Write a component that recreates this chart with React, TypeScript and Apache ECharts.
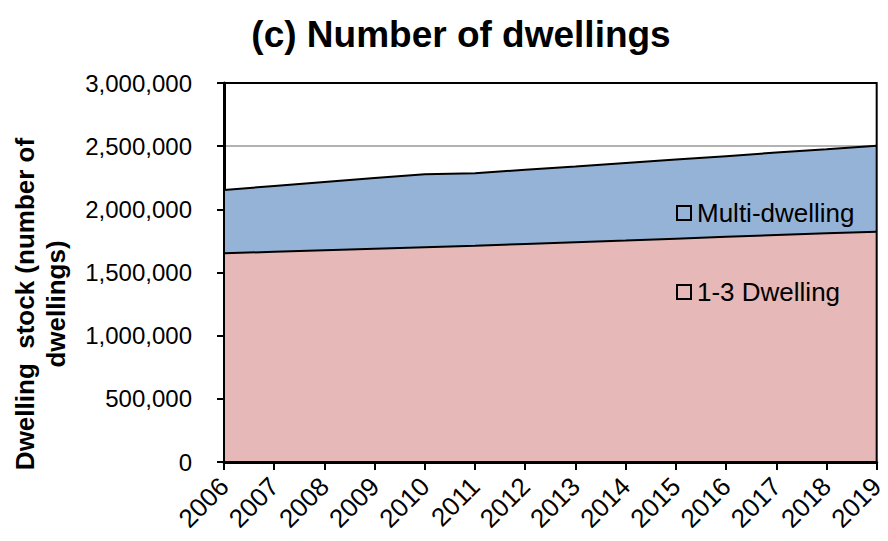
import React, { useEffect, useRef } from "react";
import * as echarts from "echarts";

const years = ["2006", "2007", "2008", "2009", "2010", "2011", "2012", "2013", "2014", "2015", "2016", "2017", "2018", "2019"];
const oneToThreeDwelling = [1652000, 1664000, 1676000, 1688000, 1700000, 1712000, 1726000, 1739000, 1753000, 1768000, 1782000, 1796000, 1810000, 1823000];
const multiDwelling = [501000, 521000, 540000, 560000, 578000, 574000, 587000, 600000, 613000, 626000, 639000, 653000, 666000, 681000];
const yTicks = [0, 500000, 1000000, 1500000, 2000000, 2500000, 3000000];

const FONT = "'Liberation Sans', Arial, sans-serif";

export default function App() {
  const ref = useRef<HTMLDivElement>(null);
  useEffect(() => {
    if (!ref.current) return;
    const chart = echarts.init(ref.current, null, { renderer: "svg" });
    chart.setOption({
      animation: false,
      backgroundColor: "#fff",
      textStyle: { fontFamily: FONT },
      title: {
        text: "(c) Number of dwellings",
        left: 456,
        textAlign: "center",
        top: 11,
        textStyle: { fontFamily: FONT, fontWeight: "bold", fontSize: 37, color: "#000" },
      },
      graphic: [
        {
          type: "text",
          x: 40,
          y: 304,
          rotation: Math.PI / 2,
          style: {
            text: "Dwelling  stock (number of\ndwellings)",
            fontFamily: FONT,
            fontWeight: "bold",
            fontSize: 26,
            lineHeight: 31,
            fill: "#000",
            align: "center",
            verticalAlign: "middle",
          },
        },
      ],
      legend: [
        {
          data: ["Multi-dwelling"],
          left: 676,
          top: 199,
          padding: 0,
          itemWidth: 14,
          itemHeight: 14,
          itemGap: 0,
          selectedMode: false,
          icon: "rect",
          itemStyle: { color: "transparent", borderColor: "#000", borderWidth: 2 },
          textStyle: { fontFamily: FONT, fontSize: 26, lineHeight: 28, color: "#000", padding: [0, 0, 0, 1] },
        },
        {
          data: ["1-3 Dwelling"],
          left: 676,
          top: 278,
          padding: 0,
          itemWidth: 14,
          itemHeight: 14,
          itemGap: 0,
          selectedMode: false,
          icon: "rect",
          itemStyle: { color: "transparent", borderColor: "#000", borderWidth: 2 },
          textStyle: { fontFamily: FONT, fontSize: 26, lineHeight: 28, color: "#000", padding: [0, 0, 0, 1] },
        },
      ],
      grid: {
        left: 224,
        right: 5,
        top: 83,
        bottom: 79,
        show: true,
        borderColor: "#000",
        borderWidth: 2,
        z: 5,
      },
      xAxis: {
        type: "category",
        data: years,
        boundaryGap: false,
        axisLine: { lineStyle: { color: "#000", width: 3 } },
        axisTick: { show: true, length: 8, lineStyle: { color: "#000", width: 2 }, alignWithLabel: true },
        axisLabel: { rotate: 45, fontSize: 26, color: "#000", fontFamily: FONT, margin: 20, interval: 0 },
        splitLine: { show: false },
      },
      yAxis: {
        type: "value",
        min: 0,
        max: 3000000,
        interval: 500000,
        axisLine: { show: true, lineStyle: { color: "#000", width: 3 } },
        axisTick: { show: true, length: 7, lineStyle: { color: "#000", width: 2 } },
        axisLabel: {
          fontSize: 24,
          color: "#000",
          fontFamily: FONT,
          margin: 32,
          formatter: (v: number) => (yTicks.includes(v) ? v.toLocaleString("en-US") : ""),
        },
        splitLine: { show: true, lineStyle: { color: "#999", width: 1.5 } },
      },
      series: [
        {
          name: "1-3 Dwelling",
          type: "line",
          stack: "total",
          data: oneToThreeDwelling,
          symbol: "none",
          color: "#E6B8B7",
          lineStyle: { color: "#000", width: 2 },
          areaStyle: { color: "#E6B8B7", opacity: 1 },
        },
        {
          name: "Multi-dwelling",
          type: "line",
          stack: "total",
          data: multiDwelling,
          symbol: "none",
          color: "#95B3D7",
          lineStyle: { color: "#000", width: 2 },
          areaStyle: { color: "#95B3D7", opacity: 1 },
        },
      ],
    });
    return () => chart.dispose();
  }, []);
  return <div ref={ref} style={{ width: 888, height: 541, position: "absolute", left: 0, top: 0 }} />;
}
